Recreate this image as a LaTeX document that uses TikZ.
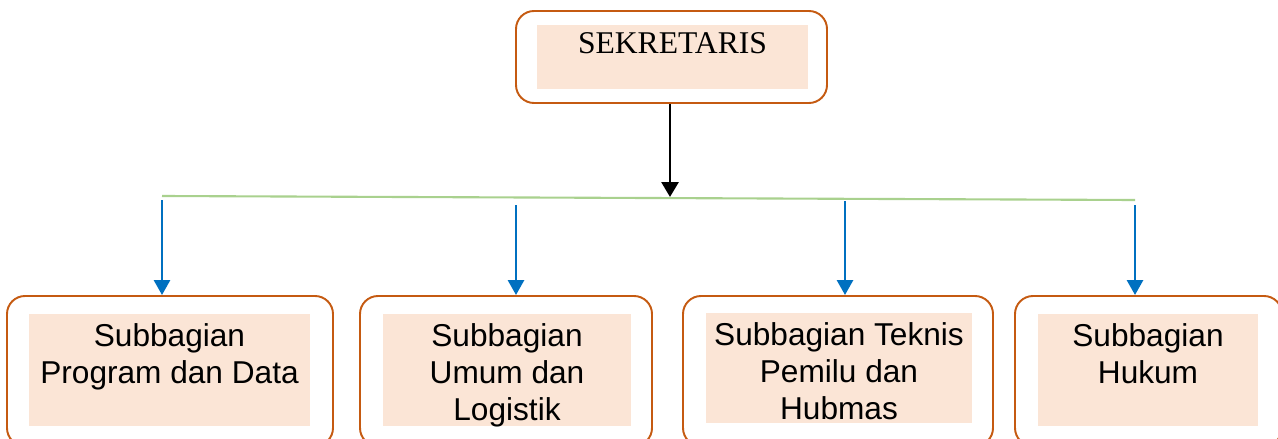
\documentclass[tikz,border=0pt]{standalone}
\usepackage{fontspec}
\setmainfont{Liberation Serif}
\newfontfamily\arialfont{Liberation Sans}
\usetikzlibrary{arrows.meta,positioning}
\definecolor{BoxLine}{HTML}{C55A11}
\definecolor{BoxFill}{HTML}{FBE5D6}
\definecolor{LinkBlue}{HTML}{0070C0}
\definecolor{BarGreen}{HTML}{A9D18E}

\begin{document}
\begin{tikzpicture}[
  x=0.02cm, y=-0.02cm,
  % rounded frame round each unit
  frame/.style={draw=BoxLine, line width=1.1pt, rounded corners=0.36cm,
                inner sep=0pt},
  % shaded panel inside the frame
  panel/.style={fill=BoxFill, draw=none, inner sep=0pt},
  % unit names
  unit/.style={inner sep=0pt, align=center,
               font=\arialfont\fontsize{18}{21}\selectfont},
  head/.style={inner sep=0pt, font=\fontsize{18}{21}\selectfont},
  % arrows
  down/.style={-{Triangle[length=0.3cm,width=0.32cm]}, draw=LinkBlue,
               line width=1.6pt},
  main/.style={-{Triangle[length=0.3cm,width=0.34cm]}, draw=black,
               line width=1.6pt},
  bar/.style={draw=BarGreen, line width=1.2pt},
]
\useasboundingbox (0,0) rectangle (1278,439);
\clip (0,0) rectangle (1278,439);

%% ── Sekretaris (top) ─────────────────────────────────────────────────────
\node[frame, minimum width=311*0.02cm, minimum height=92*0.02cm] (sf) at (671.5,57) {};
\node[panel, minimum width=271*0.02cm, minimum height=64*0.02cm] (sp) at (672.5,57) {};
\node[head, below=0.16cm of sp.north] (st) {SEKRETARIS};

%% ── Subbagian frames and panels ──────────────────────────────────────────
\node[frame, minimum width=326*0.02cm, minimum height=150*0.02cm] (f1) at (170,371) {};
\node[frame, minimum width=292*0.02cm, minimum height=150*0.02cm] (f2) at (506,371) {};
\node[frame, minimum width=310*0.02cm, minimum height=150*0.02cm] (f3) at (838,371) {};
\node[frame, minimum width=267*0.02cm, minimum height=150*0.02cm] (f4) at (1148.5,371) {};

\node[panel, minimum width=281*0.02cm, minimum height=112*0.02cm] (p1) at (169.5,370) {};
\node[panel, minimum width=248*0.02cm, minimum height=112*0.02cm] (p2) at (507,370) {};
\node[panel, minimum width=266*0.02cm, minimum height=110*0.02cm] (p3) at (839,368) {};
\node[panel, minimum width=220*0.02cm, minimum height=112*0.02cm] (p4) at (1148,370) {};

\node[unit, below=0.2cm of p1.north] (u1) {Subbagian\\Program dan Data};
\node[unit, below=0.2cm of p2.north] (u2) {Subbagian\\Umum dan\\Logistik};
\node[unit, below=0.2cm of p3.north] (u3) {Subbagian Teknis\\Pemilu dan\\Hubmas};
\node[unit, below=0.2cm of p4.north] (u4) {Subbagian\\Hukum};

%% ── Green bar and its arrows ─────────────────────────────────────────────
\coordinate (gl) at (162,196);
\coordinate (gr) at (1135,200);
\coordinate (gm) at (670,197);
\draw[bar] (gl) -- (gr);
\draw[main] (sf.south -| gm) -- (gm);

\coordinate (t1) at (162,200);
\coordinate (t2) at (516,205);
\coordinate (t3) at (845,201);
\coordinate (t4) at (1135,205);
\foreach \t/\f in {t1/f1,t2/f2,t3/f3,t4/f4}
  \draw[down] (\t) -- (\t |- \f.north);

\end{tikzpicture}
\end{document}
